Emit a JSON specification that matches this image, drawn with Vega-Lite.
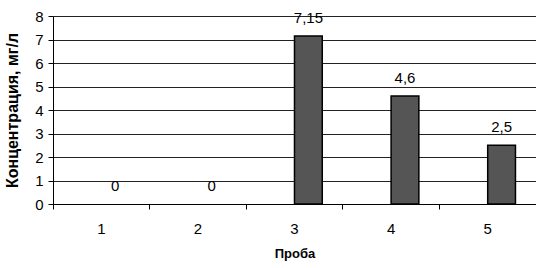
{
  "$schema": "https://vega.github.io/schema/vega-lite/v6.json",
  "autosize": {"type": "none"},
  "padding": {"left": 53, "top": 16, "right": 0, "bottom": 64},
  "width": 483,
  "height": 188,
  "background": "white",
  "config": {
    "view": {"stroke": null},
    "font": "Liberation Sans",
    "axis": {
      "domainColor": "black",
      "tickColor": "black",
      "labelColor": "black",
      "titleColor": "black",
      "labelFont": "Liberation Sans",
      "titleFont": "Liberation Sans"
    }
  },
  "data": {
    "values": [
      {"sample": "1", "series": "B", "value": 0, "label": "0"},
      {"sample": "2", "series": "B", "value": 0, "label": "0"},
      {"sample": "3", "series": "B", "value": 7.15, "label": "7,15"},
      {"sample": "4", "series": "B", "value": 4.6, "label": "4,6"},
      {"sample": "5", "series": "B", "value": 2.5, "label": "2,5"}
    ]
  },
  "encoding": {
    "x": {
      "field": "sample",
      "type": "nominal",
      "scale": {"paddingInner": 0, "paddingOuter": 0},
      "axis": {
        "title": "Проба",
        "titleFontSize": 13,
        "titleFontWeight": "bold",
        "titlePadding": 11,
        "labelAngle": 0,
        "labelFontSize": 15,
        "labelPadding": 12,
        "tickSize": 5,
        "bandPosition": 0,
        "grid": false
      }
    },
    "xOffset": {
      "field": "series",
      "type": "nominal",
      "scale": {"domain": ["A", "B"], "paddingInner": 0, "paddingOuter": 0.74}
    },
    "y": {
      "field": "value",
      "type": "quantitative",
      "scale": {"domain": [0, 8], "nice": false},
      "axis": {
        "title": "Концентрация, мг/л",
        "titleFontSize": 16,
        "titleFontWeight": "bold",
        "titlePadding": 14,
        "labelFontSize": 15,
        "labelPadding": 5,
        "tickSize": 5,
        "values": [0, 1, 2, 3, 4, 5, 6, 7, 8],
        "labelOverlap": false,
        "grid": true,
        "gridColor": "#222",
        "gridWidth": 1
      }
    }
  },
  "layer": [
    {
      "transform": [{"filter": "datum.value > 0"}],
      "mark": {"type": "bar", "fill": "#555555", "stroke": "black", "strokeWidth": 1.5}
    },
    {
      "mark": {"type": "text", "baseline": "alphabetic", "dy": -13, "fontSize": 15, "color": "black", "font": "Liberation Sans"},
      "encoding": {
        "text": {"field": "label"}
      }
    }
  ]
}
